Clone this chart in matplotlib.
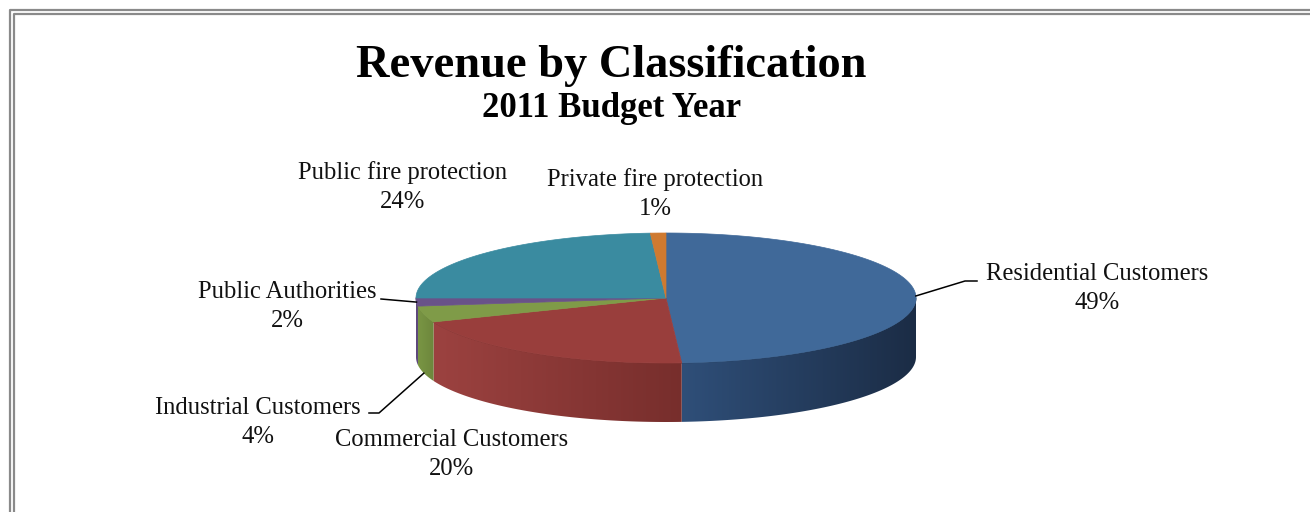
import numpy as np
import matplotlib
matplotlib.use("Agg")
import matplotlib.pyplot as plt
from matplotlib.patches import Polygon
from matplotlib.colors import LinearSegmentedColormap

# revenue share by customer class, clockwise from 12 o'clock
categories = ["Residential Customers", "Commercial Customers", "Industrial Customers",
              "Public Authorities", "Public fire protection", "Private fire protection"]
shares = [49, 20, 4, 2, 24, 1]

# top face colours and (light, dark) colours for the visible rim
top_colors = ["#406999", "#993e3c", "#7f9b48", "#695289", "#3a8ba0", "#cf7a30"]
side_colors = [("#2f4f79", "#1b2c45"), ("#9c4240", "#772e2c"), ("#7a9644", "#6c863c"),
               ("#614a80", "#584375"), ("#35809a", "#2b6a80"), ("#c06e2a", "#a85e22")]

# pie geometry in pixels
cx, cy = 666, 298
rx, ry = 250, 65
depth = 59

plt.rcParams['font.family'] = ['Liberation Serif', 'DejaVu Serif']

fig = plt.figure(figsize=(13.1, 5.12), dpi=100)
ax = fig.add_axes([0, 0, 1, 1])
ax.set_xlim(0, 1310)
ax.set_ylim(512, 0)
ax.axis("off")

# double frame round the chart area
for off, lw in [(9.5, 1.6), (14.0, 1.6)]:
    ax.plot([off, off, 1320], [520, off, off], color="#8a8a8a", lw=lw, solid_capstyle="butt")


def pt(phi, dy=0.0):
    return cx + rx * np.sin(phi), cy - ry * np.cos(phi) + dy


edges = np.concatenate([[0], np.cumsum(shares)]) / sum(shares) * 2 * np.pi

# rim (front half only: pi/2 .. 3pi/2)
for i in range(len(shares)):
    a0 = max(edges[i], np.pi / 2)
    a1 = min(edges[i + 1], 3 * np.pi / 2)
    if a1 <= a0:
        continue
    phi = np.linspace(a0, a1, 120)
    x, y = pt(phi)
    xs = np.concatenate([x, x[::-1]])
    ys = np.concatenate([y, (y + depth)[::-1]])
    poly = Polygon(np.column_stack([xs, ys]), closed=True, facecolor="none", edgecolor="none")
    ax.add_patch(poly)
    light, dark = side_colors[i]
    cmap = LinearSegmentedColormap.from_list("rim%d" % i, [light, dark])
    grad = np.linspace(0, 1, 256).reshape(1, -1)
    # light at the left edge of each wedge, dark at the right
    im = ax.imshow(grad, cmap=cmap, aspect="auto",
                   extent=[xs.min() - 1, xs.max() + 1, ys.max(), ys.min()], zorder=2)
    im.set_clip_path(poly)
    ax.plot(x, y, color=dark, lw=0.6, zorder=3)

# top face wedges
for i in range(len(shares)):
    phi = np.linspace(edges[i], edges[i + 1], max(int(shares[i] * 6), 8))
    x, y = pt(phi)
    xs = np.concatenate([[cx], x])
    ys = np.concatenate([[cy], y])
    ax.add_patch(Polygon(np.column_stack([xs, ys]), closed=True, facecolor=top_colors[i],
                         edgecolor=top_colors[i], lw=0.5, zorder=4))

mids = (edges[:-1] + edges[1:]) / 2
label_pos = [(1097, 274), (452, 440), (258, 408), (287, 292), (403, 173), (655, 180)]
for name, v, (lx, ly) in zip(categories, shares, label_pos):
    ax.text(lx, ly, name, ha="center", va="center", fontsize=17.7, color="#111111")
    ax.text(lx, ly + 29, "%d%%" % v, ha="center", va="center", fontsize=17.7, color="#111111")

# leader lines
x0, y0 = pt(mids[0])
ax.plot([x0, 965, 977], [y0, 281, 281], color="black", lw=1.1, zorder=5)
x3, y3 = pt(mids[3])
ax.plot([381, x3], [299, y3], color="black", lw=1.1, zorder=5)
x2, y2 = pt(mids[2], depth)
ax.plot([369, 379, x2], [413, 413, y2], color="black", lw=1.1, zorder=5)

ax.text(611, 77, "Revenue by Classification", ha="center", va="baseline",
        fontsize=33.4, fontweight="bold", color="black")
ax.text(612, 117, "2011 Budget Year", ha="center", va="baseline",
        fontsize=25, fontweight="bold", color="black")

fig.savefig("out.png", dpi=100)
